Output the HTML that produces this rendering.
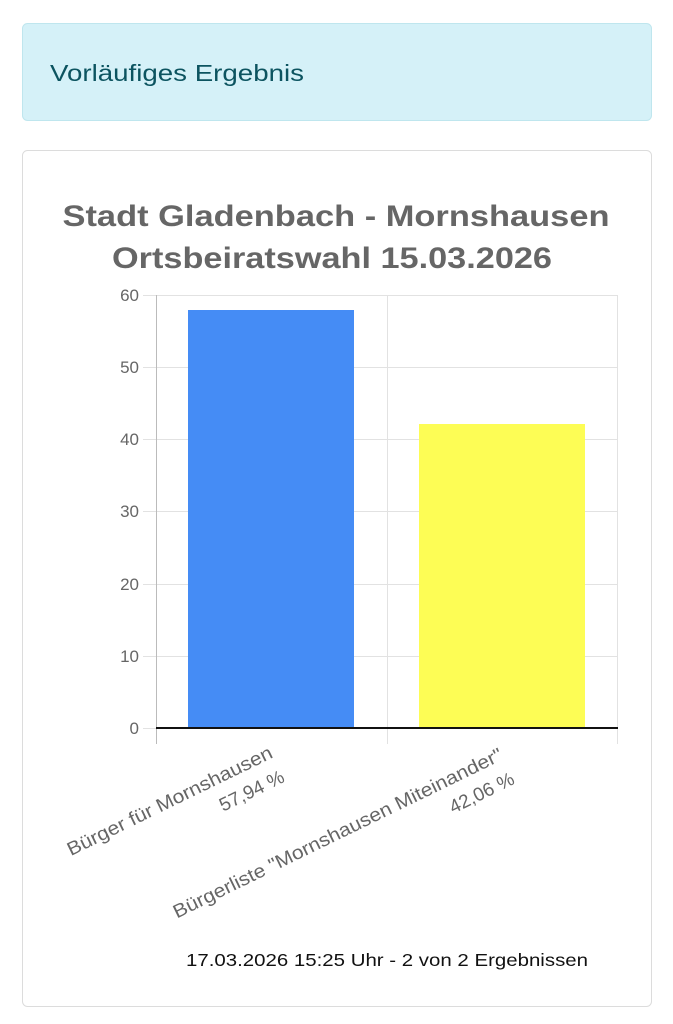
<!DOCTYPE html>
<html><head><meta charset="utf-8"><style>
html,body{margin:0;padding:0;background:#fff;width:673px;height:1024px;overflow:hidden}
svg{display:block}
</style></head><body>
<svg width="673" height="1024" viewBox="0 0 673 1024" xmlns="http://www.w3.org/2000/svg" font-family="Liberation Sans, Arial, sans-serif">
<rect x="22.5" y="23.5" width="629" height="97" rx="5" fill="#d5f1f8" stroke="#bfe6ee"/>
<text x="50" y="81" font-size="23" fill="#0c5460" textLength="254" lengthAdjust="spacingAndGlyphs">Vorläufiges Ergebnis</text>
<rect x="22.5" y="150.5" width="629" height="856" rx="5" fill="#fff" stroke="#dcdcdc"/>
<text x="336" y="226" font-size="30" font-weight="bold" fill="#666" text-anchor="middle" textLength="547" lengthAdjust="spacingAndGlyphs">Stadt Gladenbach - Mornshausen</text>
<text x="332" y="268" font-size="30" font-weight="bold" fill="#666" text-anchor="middle" textLength="440" lengthAdjust="spacingAndGlyphs">Ortsbeiratswahl 15.03.2026</text>
<g stroke="#e2e2e2" stroke-width="1">
<line x1="156" y1="295.5" x2="618" y2="295.5"/>
<line x1="156" y1="367.5" x2="618" y2="367.5"/>
<line x1="156" y1="439.5" x2="618" y2="439.5"/>
<line x1="156" y1="511.5" x2="618" y2="511.5"/>
<line x1="156" y1="584.5" x2="618" y2="584.5"/>
<line x1="156" y1="656.5" x2="618" y2="656.5"/>
<line x1="387.5" y1="295" x2="387.5" y2="744"/>
<line x1="617.5" y1="295" x2="617.5" y2="744"/>
<line x1="143" y1="295.5" x2="156" y2="295.5"/>
<line x1="143" y1="367.5" x2="156" y2="367.5"/>
<line x1="143" y1="439.5" x2="156" y2="439.5"/>
<line x1="143" y1="511.5" x2="156" y2="511.5"/>
<line x1="143" y1="584.5" x2="156" y2="584.5"/>
<line x1="143" y1="656.5" x2="156" y2="656.5"/>
<line x1="143" y1="728.5" x2="156" y2="728.5"/>
</g>
<line x1="156.5" y1="295" x2="156.5" y2="744" stroke="#bbb"/>
<rect x="188" y="310" width="166" height="418" fill="#458cf5"/>
<rect x="419" y="424" width="166" height="304" fill="#fdfd55"/>
<line x1="156" y1="728" x2="618" y2="728" stroke="#111" stroke-width="2"/>
<g font-size="17" fill="#666" text-anchor="end">
<text x="139" y="301">60</text>
<text x="139" y="373">50</text>
<text x="139" y="445">40</text>
<text x="139" y="517">30</text>
<text x="139" y="590">20</text>
<text x="139" y="662">10</text>
<text x="139" y="734">0</text>
</g>
<g font-size="19" fill="#666" text-anchor="end">
<g transform="translate(274,757) rotate(-26)">
<text x="0" y="0" textLength="226" lengthAdjust="spacingAndGlyphs">Bürger für Mornshausen</text>
<text x="0" y="27">57,94 %</text>
</g>
<g transform="translate(504,759) rotate(-26)">
<text x="0" y="0" textLength="364" lengthAdjust="spacingAndGlyphs">Bürgerliste "Mornshausen Miteinander"</text>
<text x="0" y="27">42,06 %</text>
</g>
</g>
<text x="387" y="966" font-size="17.5" fill="#111" text-anchor="middle" textLength="402" lengthAdjust="spacingAndGlyphs">17.03.2026 15:25 Uhr - 2 von 2 Ergebnissen</text>
</svg>
</body></html>
